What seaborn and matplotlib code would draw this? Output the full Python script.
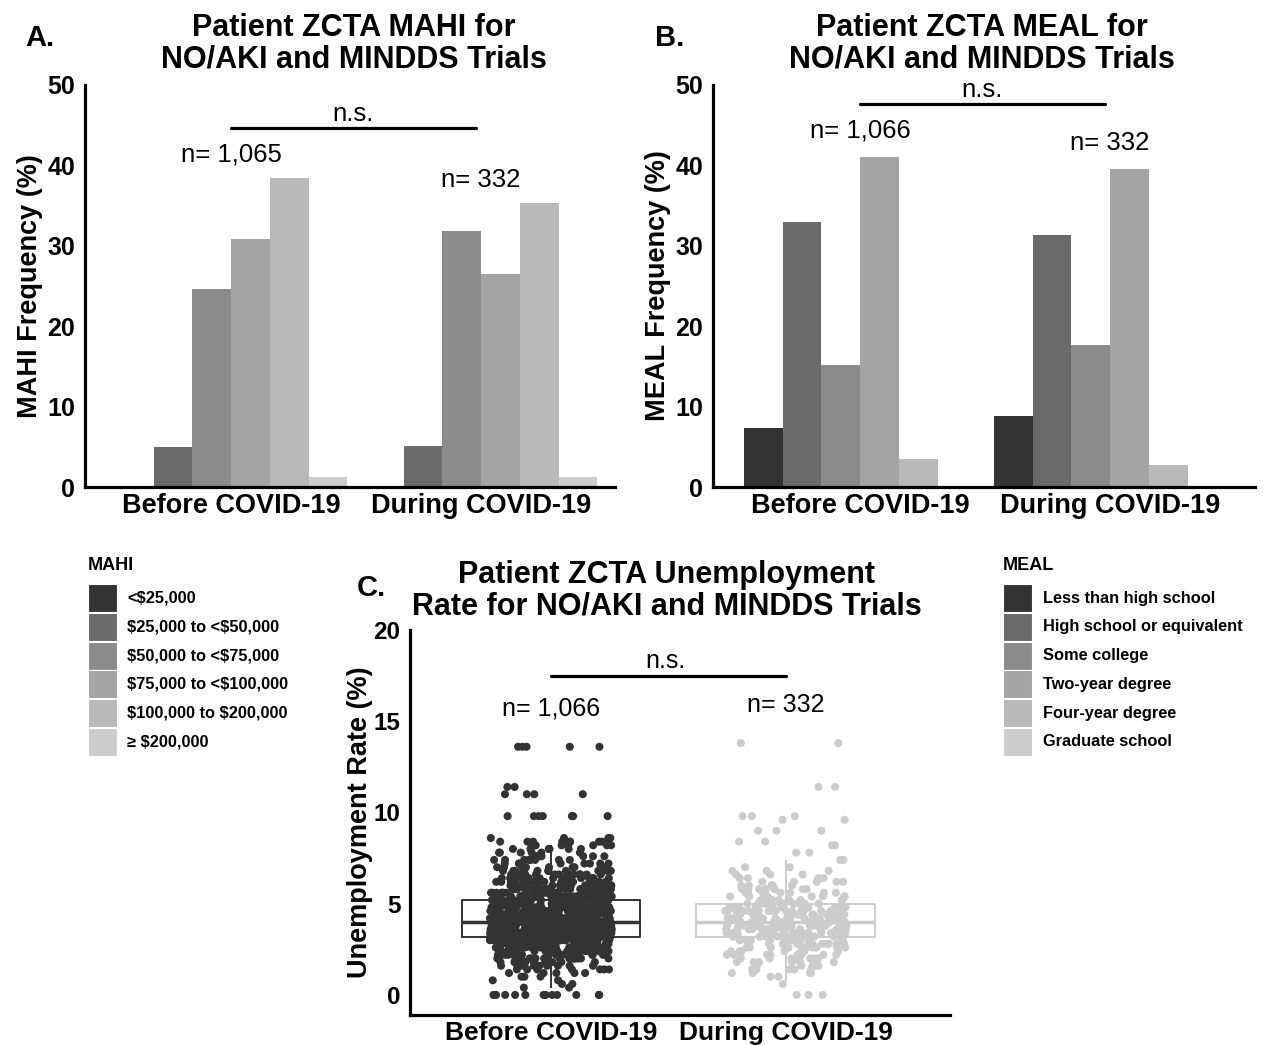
import numpy as np
import pandas as pd
import matplotlib
matplotlib.use("Agg")
import matplotlib.pyplot as plt
from matplotlib.patches import Rectangle
import seaborn as sns

W, H = 1264, 1045

periods = ["Before COVID-19", "During COVID-19"]

mahi_levels = ["<$25,000", "$25,000 to <$50,000", "$50,000 to <$75,000",
               "$75,000 to <$100,000", "$100,000 to $200,000", "\u2265 $200,000"]
mahi_before = [0.0, 5.0, 24.6, 30.8, 38.4, 1.2]
mahi_during = [0.0, 5.1, 31.8, 26.5, 35.3, 1.3]
mahi_n = ["n= 1,065", "n= 332"]

meal_levels = ["Less than high school", "High school or equivalent", "Some college",
               "Two-year degree", "Four-year degree", "Graduate school"]
meal_before = [7.3, 33.0, 15.2, 41.0, 3.5, 0.0]
meal_during = [8.8, 31.3, 17.7, 39.5, 2.7, 0.0]
meal_n = ["n= 1,066", "n= 332"]

# unemployment rate (%) per patient ZCTA, read as value rows and point counts
before_rate = [0.0, 0.4, 0.6, 0.8, 1.0, 1.2, 1.4, 1.6, 1.8, 2.0, 2.2, 2.4, 2.6,
               2.8, 3.0, 3.2, 3.4, 3.6, 3.8, 4.0, 4.2, 4.4, 4.6, 4.8, 5.0, 5.2,
               5.4, 5.6, 5.8, 6.0, 6.2, 6.4, 6.6, 6.8, 7.0, 7.2, 7.4, 7.6, 7.8,
               8.0, 8.2, 8.4, 8.6, 9.8, 11.0, 11.4, 13.6]
before_count = [12, 2, 2, 2, 3, 5, 7, 10, 13, 17, 20, 25, 31,
                36, 42, 50, 60, 66, 70, 68, 58, 52, 46, 40, 36, 32,
                32, 28, 24, 22, 20, 18, 16, 14, 10, 8, 8, 7, 6,
                6, 8, 12, 4, 7, 4, 2, 5]
during_rate = [0.0, 0.6, 1.0, 1.2, 1.4, 1.6, 1.8, 2.0, 2.2, 2.4, 2.6, 2.8, 3.0,
               3.2, 3.4, 3.6, 3.8, 4.0, 4.2, 4.4, 4.6, 4.8, 5.0, 5.2, 5.4, 5.6,
               5.8, 6.0, 6.2, 6.4, 6.6, 6.8, 7.0, 7.4, 7.8, 8.2, 8.4, 9.0, 9.6,
               9.8, 11.4, 13.8]
during_count = [3, 1, 2, 4, 5, 5, 6, 7, 8, 8, 10, 12, 10,
                20, 20, 20, 20, 22, 18, 16, 15, 14, 11, 9, 8, 8,
                7, 6, 5, 4, 3, 3, 2, 2, 2, 2, 2, 3, 2,
                3, 2, 2]
unemp_n = ["n= 1,066", "n= 332"]

GREYS = ["#333333", "#6a6a6a", "#8b8b8b", "#a4a4a4", "#b9b9b9", "#cccccc"]
PTS = ["#333333", "#cccccc"]

sns.set_style("white")
plt.rcParams["font.family"] = ["Liberation Sans", "DejaVu Sans"]
plt.rcParams["font.weight"] = "bold"
plt.rcParams["axes.labelweight"] = "bold"
plt.rcParams["text.color"] = "black"
plt.rcParams["axes.labelcolor"] = "black"


def fx(px):
    return px / W


def fy(py):
    return 1 - py / H


def style_axis(ax, xsize=19.5, ysize=18, ylabel="", labelpad=3):
    sns.despine(ax=ax)
    for s in ["left", "bottom"]:
        ax.spines[s].set_linewidth(2.3)
        ax.spines[s].set_color("black")
    ax.tick_params(axis="x", length=0, labelsize=xsize, pad=4, colors="black")
    ax.tick_params(axis="y", length=0, labelsize=ysize, pad=7, colors="black")
    ax.set_xlabel("")
    ax.set_ylabel(ylabel, fontsize=19.5, labelpad=labelpad)


def bar_panel(ax, levels, before, during, nlabels, ylabel, sig_y, n_y):
    df = pd.DataFrame({
        "period": np.repeat(periods, len(levels)),
        "level": levels * 2,
        "freq": before + during,
    })
    sns.barplot(data=df, x="period", y="freq", hue="level", hue_order=levels,
                palette=GREYS, width=0.93, linewidth=0, saturation=1,
                errorbar=None, legend=False, ax=ax)
    ax.set_ylim(0, 50)
    ax.set_yticks([0, 10, 20, 30, 40, 50])
    ax.plot([0, 0.98], [sig_y, sig_y], color="black", lw=2.3, clip_on=False)
    ax.text(0.49, sig_y + 1.8, "n.s.", ha="center", va="center",
            fontsize=18.5, fontweight="normal")
    for i, (lab, yy) in enumerate(zip(nlabels, n_y)):
        ax.text(i, yy, lab, ha="center", va="center", fontsize=18.5,
                fontweight="normal")
    style_axis(ax, ylabel=ylabel)


def draw_legend(fig, title, levels, x, label_x):
    fig.text(fx(x), fy(565), title, ha="left", va="center", fontsize=13,
             fontweight="bold")
    for i, (lab, c) in enumerate(zip(levels, GREYS)):
        yc = 598 + i * 28.8
        fig.patches.append(Rectangle((fx(x), fy(yc + 14)), 29 / W, 28 / H,
                                     transform=fig.transFigure, figure=fig,
                                     facecolor=c, edgecolor="white", lw=0.8))
        fig.text(fx(label_x), fy(yc), lab, ha="left", va="center",
                 fontsize=11.8, fontweight="bold", parse_math=False)


fig = plt.figure(figsize=(W / 100, H / 100), dpi=100)

axA = fig.add_axes([fx(85), fy(487), 530 / W, 402 / H])
bar_panel(axA, mahi_levels, mahi_before, mahi_during, mahi_n,
          "MAHI Frequency (%)", 44.6, [41.4, 38.2])
axA.set_xlim(-0.584, 1.536)

axB = fig.add_axes([fx(713), fy(487), 542 / W, 402 / H])
bar_panel(axB, meal_levels, meal_before, meal_during, meal_n,
          "MEAL Frequency (%)", 47.6, [44.3, 42.8])
axB.set_xlim(-0.588, 1.58)

# panel C: box + jittered points
dfC = pd.DataFrame({
    "period": [periods[0]] * sum(before_count) + [periods[1]] * sum(during_count),
    "rate": np.concatenate([np.repeat(before_rate, before_count),
                            np.repeat(during_rate, during_count)]),
})
axC = fig.add_axes([fx(410), fy(1015), 540 / W, 385 / H])
sns.boxplot(data=dfC, x="period", y="rate", hue="period", palette=PTS,
            fill=False, width=0.76, showfliers=False, showcaps=False,
            linewidth=1.4, medianprops={"linewidth": 2.5}, legend=False, ax=axC)
np.random.seed(3)
sns.stripplot(data=dfC, x="period", y="rate", hue="period", palette=PTS,
              jitter=0.26, size=5.8, linewidth=0, legend=False, ax=axC)
axC.set_ylim(-1.1, 20)
axC.set_xlim(-0.6, 1.7)
axC.set_yticks([0, 5, 10, 15, 20])
axC.plot([0, 1], [17.5, 17.5], color="black", lw=2.3, clip_on=False)
axC.text(0.49, 18.3, "n.s.", ha="center", va="center", fontsize=18,
         fontweight="normal")
for i, (lab, yy) in enumerate(zip(unemp_n, [15.7, 15.9])):
    axC.text(i, yy, lab, ha="center", va="center", fontsize=18,
             fontweight="normal")
style_axis(axC, xsize=19, ysize=17.5, ylabel="Unemployment Rate (%)", labelpad=0)

# titles and panel letters
tkw = dict(ha="center", va="center", fontsize=22, fontweight="bold",
           linespacing=1.05)
fig.text(fx(354), fy(44), "Patient ZCTA MAHI for\nNO/AKI and MINDDS Trials", **tkw)
fig.text(fx(982), fy(44), "Patient ZCTA MEAL for\nNO/AKI and MINDDS Trials", **tkw)
fig.text(fx(667), fy(591), "Patient ZCTA Unemployment\nRate for NO/AKI and MINDDS Trials", **tkw)
for lab, x, y in [("A.", 25, 38), ("B.", 655, 38), ("C.", 357, 588)]:
    fig.text(fx(x), fy(y), lab, ha="left", va="center", fontsize=21,
             fontweight="bold")

draw_legend(fig, "MAHI", mahi_levels, 88, 127)
draw_legend(fig, "MEAL", meal_levels, 1003, 1043)

fig.savefig("out.png", dpi=100)
